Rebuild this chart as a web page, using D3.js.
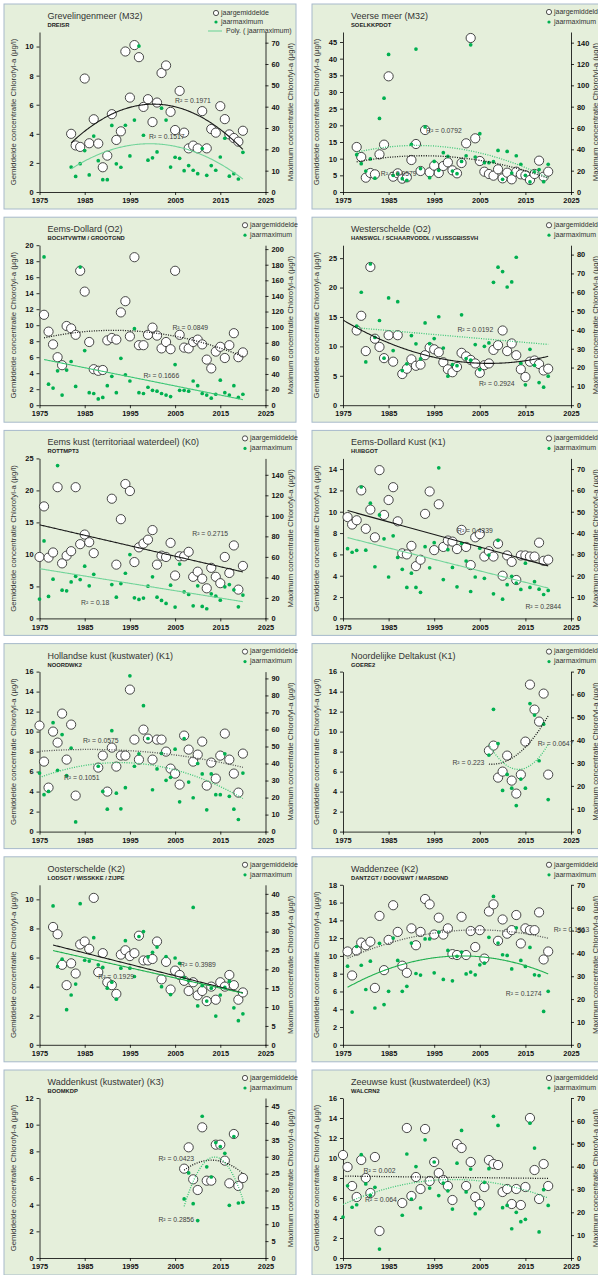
<!DOCTYPE html>
<html>
<head>
<meta charset="utf-8">
<script src="https://cdn.jsdelivr.net/npm/d3@7"></script>
<style>
  body { margin: 0; background: #fff; }
  svg { display: block; font-family: "Liberation Sans", Arial, sans-serif; }
</style>
</head>
<body>
<svg id="chart" width="598" height="1275"></svg>
<script>
// ---- data ----
const xTicks = [1975, 1985, 1995, 2005, 2015, 2025];

const grevYears = d3.range(1982, 2021);
const grevMean = [4.0,3.2,3.1,7.8,3.35,5.0,3.33,1.7,2.5,5.35,3.58,4.17,9.66,6.49,10.1,9.27,5.85,6.38,4.81,6.15,8.18,8.7,5.51,4.26,6.95,4.08,3.0,3.19,3.0,5.56,3.0,4.33,4.08,5.9,5.01,3.96,3.71,3.46,4.21];
const grevMax = [11.7,7.3,13.3,19.4,8.0,26.2,14.7,5.8,5.8,31.2,13.2,11.6,31.3,16.9,33.7,68.4,26.6,14.9,16.0,18.8,39.3,33.7,11.7,16.3,15.8,10.0,12.4,10.2,8.6,20.4,7.8,12.4,10.2,16.4,25.2,7.4,8.6,6.1,18.6];

const veerseYears = d3.range(1978, 2021);
const veerseMean = [13.5,10.5,4.3,5.7,5.3,11.3,14.2,34.7,4.6,5.6,4.0,4.4,9.6,14.4,6.3,18.6,5.9,7.9,5.7,7.8,8.9,6.5,5.6,8.7,14.6,46.2,16.1,9.3,6.1,5.4,4.9,6.8,4.1,5.8,3.8,6.1,5.3,5.0,3.6,5.4,9.4,4.6,6.1];
const veerseMax = [35,26.6,19.7,31,13,69,88,129,15.6,17,12.5,11,44.7,134,22,61,13.4,28.7,20.3,36.9,33.4,19.7,17.2,28.7,34,138,32.8,54.7,27.5,27.5,28.4,39,11.9,38,17.8,34,26,15.6,9.4,19,21,9.7,26];

const edYears = d3.range(1976, 2021);
const edMean = [11.3,9.2,7.6,6.0,5.0,9.9,9.6,8.8,16.8,14.2,7.9,4.5,4.3,4.4,8.1,8.4,8.2,11.6,13.0,8.6,18.5,7.5,7.5,8.8,9.7,8.7,7.1,7.9,7.0,16.8,8.8,7.2,7.1,7.9,8.2,7.6,5.7,4.6,6.7,7.3,5.9,7.5,9.0,6.0,6.6];
const edMax = [190,27,22,44,13,45,56,24,177,70,16,15,8,10,25,37,16,60,39,31,98,16,15,23,19,18,15,13,11,52,19,19,18,31,25,15,13,9,14,32,16,13,25,10,14];

const wsYears = d3.range(1978, 2021);
const wsMean = [12.7,15.2,9.2,23.5,11.3,9.9,8.0,11.9,7.4,11.9,5.3,6.2,7.8,6.7,6.9,8.5,9.8,9.5,9.0,7.3,6.1,5.6,6.5,8.9,8.3,7.7,7.1,5.5,6.8,7.1,9.4,10.2,12.7,9.2,10.5,8.5,6.1,4.8,7.4,7.6,7.0,5.9,6.2];
const wsMax = [42,60,23,75,36,45,25,57,29,55,18.4,22,37,32.6,24.6,43.7,32.7,35.4,47,30.4,15.4,21.6,21,48,24.8,23.9,32.2,18.9,31.3,33.1,65.3,73.3,71,62.8,65.5,78.6,22.3,10.8,29.7,21.2,12,9.6,15.4];

const ekYears = d3.range(1975, 1988).concat(d3.range(1991, 2021));
const ekMean = [9.6,17.5,9.5,10.3,20.5,8.6,9.8,10.5,20.5,11.6,13.1,11.9,10.2,18.7,8.4,15.5,21.0,19.9,8.8,11.1,11.7,12.3,13.8,8.4,9.8,9.6,11.8,6.7,9.7,9.7,10.4,6.5,7.3,6.2,4.7,7.9,6.5,5.5,9.6,7.1,11.4,4.5,8.2];
const ekMax = [18.8,75.5,21.4,38.2,149,27.5,26.9,35.6,41,37.9,50.9,31.8,43,33,20.7,34,44,62.2,20.1,18.5,19.8,31.4,40.5,20.7,17.5,14.6,32.4,11,53,25.9,23.3,12.3,31.8,11.7,9.4,24,21.7,17.8,30.8,33,27.9,11.3,22.7];

const edkYears = d3.range(1976, 2021);
const edkMean = [9.5,8.8,9.2,12.0,8.4,10.2,7.6,13.9,9.7,11.1,12.3,9.1,6.1,6.0,6.8,4.9,5.5,9.8,11.9,6.4,10.7,6.7,7.3,7.2,6.5,8.3,6.7,5.0,7.6,7.9,5.8,6.3,5.8,7.0,4.0,5.9,5.3,3.6,5.9,5.9,5.8,5.8,7.1,5.4,5.5];
const edkMax = [32.7,31,31.9,61.6,32,54,24.2,48.5,37.3,19.4,38.7,28.6,23,14.5,21.2,14.5,12.2,33.6,23.7,35.5,70.6,18.2,32.2,23.9,14.8,35.2,26.9,12.6,19.4,32.9,18.8,29.7,11.5,36.6,9,15.8,19.7,16.6,13.6,25.9,14.5,17.2,13.7,11.2,13.1];

const hkYears = d3.range(1975, 1984).concat(d3.range(1988, 2021));
const hkMean = [10.6,7.0,4.4,10.0,8.9,11.8,7.2,10.7,3.6,6.4,7.6,4.0,8.4,6.5,7.6,7.6,14.2,9.2,7.2,10.2,9.3,7.2,9.2,9.2,8.0,6.3,5.8,4.7,9.6,8.2,7.0,7.7,9.0,4.6,6.9,5.3,7.6,9.8,7.2,5.8,3.9,7.8];
const hkMax = [34.4,21.7,23.6,64,36,57,32.9,49,5.7,38.4,23.6,13.2,59.3,22.6,13.4,25.8,91.5,38.4,45.7,74,54.7,24.6,36.8,45.9,30.1,31.9,48.4,17.5,54.7,29.1,19.9,40,33.9,12.8,33.9,21.7,21.7,45.7,20.7,13.2,7.1,34.4];

const ndYears = d3.range(2007, 2021);
const ndMean = [8.1,8.6,5.4,6.0,7.6,5.1,3.8,5.7,9.0,14.7,12.2,11.0,13.8,5.7];
const ndMax = [33.5,53.5,38.5,18,25,19,11.4,23,19,56,51,31,47,14];

const osYears = d3.range(1978, 2021);
const osMean = [8.1,7.6,5.5,4.1,5.6,4.9,6.9,7.1,6.6,10.1,5.0,6.3,4.3,4.1,3.5,6.2,6.5,6.1,6.3,7.5,5.8,5.8,5.9,7.1,4.5,5.7,3.8,5.1,4.8,4.4,3.7,4.3,3.4,3.7,3.0,4.0,3.1,4.3,4.0,4.8,4.1,3.1,3.6];
const osMax = [36.8,20.7,22.7,9.3,13.2,16.1,37.4,22.4,22.2,28.4,21.2,20.5,15,16.6,12.1,20.3,27.6,20.3,18.1,28.7,30,23.3,24.5,25.9,15.4,23.4,13.3,23,21.6,17.8,17,36.4,10.3,15.7,11.6,15,7.6,13.2,15.2,16.8,9.8,6.4,8.2];

const wzYears = d3.range(1976, 2021);
const wzMean = [10.5,7.8,10.6,11.5,11.2,11.6,6.4,14.5,8.4,11.8,15.7,12.7,8.9,8.1,13.1,11.2,12.7,16.4,15.8,12.4,14.3,12.4,13.1,10.2,10.1,14.4,10.1,12.8,11.0,12.9,9.7,15.0,15.8,11.7,14.1,12.5,12.9,14.6,11.4,13.1,12.9,12.9,14.9,9.6,10.5];
const wzMax = [34.4,14.3,43,34.8,24.2,36.6,16.1,44.4,17.6,23.4,46.7,36.9,23.4,25.6,44.5,31.2,30.5,46.3,46.3,31.5,49.3,28.6,41.3,28,38.7,40.6,31,31.8,30.6,35,35.7,47,64.9,44.5,39.4,39.1,33.2,51.2,36.9,34.3,42.6,30.6,30.3,14.6,23.4];

const wkYears = d3.range(2007, 2021);
const wkMean = [6.7,8.3,5.9,5.1,9.8,5.8,5.8,8.5,8.5,7.3,5.6,9.3,5.4,6.0];
const wkMax = [17.5,25.2,16.1,11.1,42,27,24,34.2,33,31,15.6,36,16.3,16.5];

const zkYears = d3.range(1975, 1984).concat(d3.range(1988, 2021));
const zkMean = [10.3,9.1,7.2,6.1,9.8,8.0,6.5,10.1,2.7,5.5,13.0,6.2,8.1,6.9,12.9,7.7,9.6,8.5,7.8,7.2,5.8,11.4,11.0,7.2,9.6,6.1,5.4,7.1,9.8,9.4,9.3,6.6,6.9,5.4,6.9,5.3,7.1,14.0,8.8,5.9,9.4,7.2];
const zkMax = [17.9,31.6,22.2,23.3,45.2,32.4,27.4,30.9,3.9,18.7,45.5,25.8,40,21.9,51.7,30.6,42,27.3,32.8,29.4,21.4,41.5,55.8,28.9,38.9,19.4,21.6,33.1,39.1,62,58,22,23,12.8,20,15.9,16.9,59,48.1,11.4,29.9,23];

// ---- panel setup ----
const GREEN = "#00b050";
const GREEN_LIGHT = "#72d49a";
const GREEN_MID = "#3cc676";

const panels = [
  { title: "Grevelingenmeer (M32)", station: "DREISR", years: grevYears, mean: grevMean, max: grevMax,
    left: [11, 2], right: [75, 10], polyLegend: true,
    tMean: { order: 2, dot: false }, tMax: { order: 2, dot: false, color: GREEN_LIGHT },
    r2: [["R² = 0.1971", 2005, 6.1], ["R² = 0.1517", 1999.2, 3.65]] },
  { title: "Veerse meer (M32)", station: "SOELKKPDOT", years: veerseYears, mean: veerseMean, max: veerseMax,
    left: [48, 5], right: [150, 20],
    tMean: { order: 2, dot: true }, tMax: { order: 2, dot: true, color: GREEN_MID },
    r2: [["R² = 0.0792", 1993.2, 17.7], ["R² = 0.0579", 1983.3, 4.7]] },
  { title: "Eems-Dollard (O2)", station: "BOCHTVWTM / GROOTGND", years: edYears, mean: edMean, max: edMax,
    left: [20, 2], right: [205, 20],
    tMean: { order: 2, dot: true }, tMax: { order: 1, dot: false, color: GREEN_MID },
    r2: [["R² = 0.0849", 2004.4, 9.45], ["R² = 0.1666", 1998, 3.4]] },
  { title: "Westerschelde (O2)", station: "HANSWGL / SCHAARVODDL / VLISSGBISSVH", years: wsYears, mean: wsMean, max: wsMax,
    left: [27.2, 5], right: [85, 10],
    tMean: { order: 2, dot: false, back: 3 }, tMax: { order: 1, dot: true, color: GREEN_MID },
    r2: [["R² = 0.0192", 2000.1, 12.4], ["R² = 0.2924", 2004.8, 3.3]] },
  { title: "Eems kust (territoriaal waterdeel) (K0)", station: "ROTTMPT3", years: ekYears, mean: ekMean, max: ekMax,
    left: [25, 5], right: [156, 20],
    tMean: { order: 1, dot: false }, tMax: { order: 1, dot: false, color: GREEN_LIGHT },
    r2: [["R² = 0.2715", 2008.8, 12.9], ["R² = 0.18", 1984.2, 2.1]] },
  { title: "Eems-Dollard Kust (K1)", station: "HUIBGOT", years: edkYears, mean: edkMean, max: edkMax,
    left: [15, 2], right: [75, 10],
    tMean: { order: 1, dot: false }, tMax: { order: 1, dot: false, color: GREEN_LIGHT },
    r2: [["R² = 0.4339", 2000, 8.0], ["R² = 0.2844", 2015, 0.9]] },
  { title: "Hollandse kust (kustwater) (K1)", station: "NOORDWK2", years: hkYears, mean: hkMean, max: hkMax,
    left: [16, 2], right: [94, 10],
    tMean: { order: 2, dot: true, color: "#555" }, tMax: { order: 2, dot: true, color: GREEN_MID },
    r2: [["R² = 0.0575", 1984.6, 8.85], ["R² = 0.1051", 1980.4, 5.2]] },
  { title: "Noordelijke Deltakust (K1)", station: "GOERE2", years: ndYears, mean: ndMean, max: ndMax,
    left: [16, 2], right: [70, 10],
    tMean: { order: 2, dot: true }, tMax: { order: 2, dot: true, color: GREEN_MID },
    r2: [["R² = 0.223", 1999, 6.65], ["R² = 0.0647", 2017.7, 8.6]] },
  { title: "Oosterschelde (K2)", station: "LODSGT / WISSKKE / ZIJPE", years: osYears, mean: osMean, max: osMax,
    left: [11, 2], right: [42.4, 5],
    tMean: { order: 1, dot: false }, tMax: { order: 1, dot: false, color: "#1fb04f" },
    r2: [["R² = 0.3989", 2006.1, 5.35], ["R² = 0.1929", 1988, 4.5]] },
  { title: "Waddenzee (K2)", station: "DANTZGT / DOOVBWT / MARSDND", years: wzYears, mean: wzMean, max: wzMax,
    left: [18, 2], right: [70, 10],
    tMean: { order: 2, dot: true, color: "#555" }, tMax: { order: 2, dot: false, color: "#1fb04f" },
    r2: [["R² = 0.1513", 2021.2, 12.7], ["R² = 0.1274", 2010.7, 5.5]] },
  { title: "Waddenkust (kustwater) (K3)", station: "BOOMKDP", years: wkYears, mean: wkMean, max: wkMax,
    left: [12, 2], right: [47.4, 5],
    tMean: { order: 2, dot: true }, tMax: { order: 2, dot: true, color: GREEN_MID },
    r2: [["R² = 0.0423", 2001.3, 7.27], ["R² = 0.2856", 2001.3, 2.7]] },
  { title: "Zeeuwse kust (kustwaterdeel) (K3)", station: "WALCRN2", years: zkYears, mean: zkMean, max: zkMax,
    left: [16, 2], right: [70, 10],
    tMean: { order: 1, dot: true }, tMax: { order: 2, dot: true, color: GREEN_MID },
    r2: [["R² = 0.002", 1979.5, 8.5], ["R² = 0.064", 1979.8, 5.6]] }
];

// least squares polynomial fit, like an Excel trendline
function fitPoly(xs, ys, order) {
  const x0 = d3.mean(xs);
  const n = order + 1;
  const A = d3.range(n).map(() => new Array(n).fill(0));
  const b = new Array(n).fill(0);
  xs.forEach((x, i) => {
    const t = x - x0;
    for (let r = 0; r < n; r++) {
      b[r] += Math.pow(t, r) * ys[i];
      for (let c = 0; c < n; c++) A[r][c] += Math.pow(t, r + c);
    }
  });
  for (let i = 0; i < n; i++) {
    for (let r = i + 1; r < n; r++) {
      const f = A[r][i] / A[i][i];
      for (let c = i; c < n; c++) A[r][c] -= f * A[i][c];
      b[r] -= f * b[i];
    }
  }
  const coef = new Array(n).fill(0);
  for (let i = n - 1; i >= 0; i--) {
    let s = b[i];
    for (let c = i + 1; c < n; c++) s -= A[i][c] * coef[c];
    coef[i] = s / A[i][i];
  }
  return x => coef.reduce((s, c, k) => s + c * Math.pow(x - x0, k), 0);
}

const svg = d3.select("#chart");
const cols = [
  { panelX: 4, panelW: 292, plotL: 39.5, plotR: 265.5, legX: 245 },
  { panelX: 312, panelW: 294, plotL: 343, plotR: 571, legX: 549 }
];
const ROW_STEP = 213.2;
const PLOT_H = 160;

panels.forEach((p, idx) => {
  const col = cols[idx % 2];
  const row = Math.floor(idx / 2);
  const axisY = 192 + row * ROW_STEP;
  const plotTop = axisY - PLOT_H;
  const panelTop = axisY - 188;

  const g = svg.append("g").attr("class", "panel");

  g.append("rect")
    .attr("x", col.panelX).attr("y", panelTop)
    .attr("width", col.panelW).attr("height", 205)
    .attr("fill", "#e5efdb")
    .attr("stroke", "#a7bacb")
    .attr("stroke-width", 1);

  const x = d3.scaleLinear().domain([1975, 2025]).range([col.plotL, col.plotR]);
  const yL = d3.scaleLinear().domain([0, p.left[0]]).range([axisY, plotTop]);
  const yR = d3.scaleLinear().domain([0, p.right[0]]).range([axisY, plotTop]);

  // titles
  g.append("text")
    .attr("x", col.plotL + 8).attr("y", panelTop + 15)
    .style("font-size", "9px").style("fill", "#333")
    .text(p.title);
  g.append("text")
    .attr("x", col.plotL + 8).attr("y", panelTop + 23)
    .style("font-size", "5.8px").style("font-weight", "bold").style("fill", "#222")
    .text(p.station);

  // axes
  const styleAxis = sel => {
    sel.selectAll("path, line").attr("stroke", "#000").attr("stroke-width", 0.8);
    sel.selectAll("text").style("font-size", "7.4px").style("font-weight", "bold")
      .style("fill", "#111").style("font-family", "\"Liberation Sans\", Arial, sans-serif");
  };
  const leftTicks = d3.range(0, p.left[0] + 1e-9, p.left[1]);
  const rightTicks = d3.range(0, p.right[0] + 1e-9, p.right[1]);

  g.append("g").attr("transform", `translate(0,${axisY})`)
    .call(d3.axisBottom(x).tickValues(xTicks).tickFormat(d3.format("d")).tickSize(3).tickSizeOuter(0).tickPadding(3))
    .call(styleAxis);
  g.append("g").attr("transform", `translate(${col.plotL},0)`)
    .call(d3.axisLeft(yL).tickValues(leftTicks).tickSize(3).tickSizeOuter(0).tickPadding(3))
    .call(styleAxis);
  g.append("g").attr("transform", `translate(${col.plotR},0)`)
    .call(d3.axisRight(yR).tickValues(rightTicks).tickSize(3).tickSizeOuter(0).tickPadding(3))
    .call(styleAxis);

  const midY = (plotTop + axisY) / 2;
  g.append("text")
    .attr("transform", `translate(${col.plotL - 26},${midY}) rotate(-90)`)
    .attr("text-anchor", "middle").attr("dominant-baseline", "middle")
    .style("font-size", "7.8px").style("fill", "#333")
    .text("Gemiddelde concentratie Chlorofyl-a (µg/l)");
  g.append("text")
    .attr("transform", `translate(${col.plotR + 25},${midY}) rotate(-90)`)
    .attr("text-anchor", "middle").attr("dominant-baseline", "middle")
    .style("font-size", "7.8px").style("fill", "#333")
    .text("Maximum concentratie Chlorofyl-a (µg/l)");

  // clip for trendlines
  const clipId = `clip-${idx}`;
  g.append("clipPath").attr("id", clipId).append("rect")
    .attr("x", col.plotL).attr("y", plotTop)
    .attr("width", col.plotR - col.plotL).attr("height", PLOT_H);

  // markers
  g.append("g").selectAll("circle").data(p.years.map((yr, i) => [yr, p.mean[i]]))
    .join("circle")
    .attr("cx", d => x(d[0])).attr("cy", d => yL(d[1])).attr("r", 4.6)
    .attr("fill", "#fff").attr("stroke", "#333").attr("stroke-width", 0.9);
  g.append("g").selectAll("circle").data(p.years.map((yr, i) => [yr, p.max[i]]))
    .join("circle")
    .attr("cx", d => x(d[0])).attr("cy", d => yR(d[1])).attr("r", 1.85)
    .attr("fill", GREEN);

  // trendlines
  const drawTrend = (vals, scale, spec, defColor) => {
    const f = fitPoly(p.years, vals, spec.order);
    const x0 = d3.min(p.years) - (spec.back || 0);
    const x1 = d3.max(p.years);
    const pts = d3.range(x0, x1 + 1e-9, 0.2).map(t => [t, f(t)]);
    g.append("path")
      .attr("clip-path", `url(#${clipId})`)
      .attr("d", d3.line().x(d => x(d[0])).y(d => scale(d[1]))(pts))
      .attr("fill", "none")
      .attr("stroke", spec.color || defColor)
      .attr("stroke-width", spec.dot ? 1.3 : 1.1)
      .attr("stroke-dasharray", spec.dot ? "1,1.4" : null);
  };
  drawTrend(p.mean, yL, p.tMean, "#1a1a1a");
  drawTrend(p.max, yR, p.tMax, GREEN_MID);

  // R² labels
  p.r2.forEach(([txt, yr, v]) => {
    g.append("text")
      .attr("x", x(yr)).attr("y", yL(v))
      .style("font-size", "6.8px").style("fill", "#404040")
      .text(txt);
  });

  // legend
  const legX = p.polyLegend ? col.legX - 29 : col.legX;
  const ly = p.polyLegend ? [panelTop + 9, panelTop + 18, panelTop + 27] : [panelTop + 8, panelTop + 18];
  const legText = (xx, yy, txt) => g.append("text")
    .attr("x", xx).attr("y", yy).attr("dominant-baseline", "middle")
    .style("font-size", "7px").style("fill", "#333").text(txt);
  g.append("circle").attr("cx", legX).attr("cy", ly[0]).attr("r", 2.6)
    .attr("fill", "#fff").attr("stroke", "#222").attr("stroke-width", 0.8);
  legText(legX + 5, ly[0], "jaargemiddelde");
  g.append("circle").attr("cx", legX).attr("cy", ly[1]).attr("r", 1.6).attr("fill", GREEN);
  legText(legX + 5, ly[1], "jaarmaximum");
  if (p.polyLegend) {
    g.append("line").attr("x1", legX - 8).attr("x2", legX + 6).attr("y1", ly[2]).attr("y2", ly[2])
      .attr("stroke", GREEN_LIGHT).attr("stroke-width", 1.1);
    legText(legX + 10, ly[2], "Poly. ( jaarmaximum)");
  }
});
</script>
</body>
</html>
